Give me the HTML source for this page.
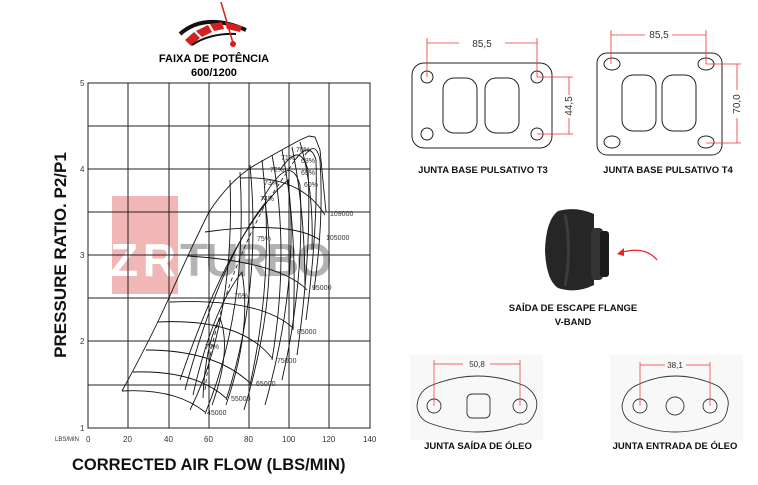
<!DOCTYPE html>
<html><head><meta charset="utf-8"><style>
html,body{margin:0;padding:0;background:#fff;}
svg{display:block;}
text{font-family:"Liberation Sans",sans-serif;}
</style></head><body>
<svg width="758" height="485" viewBox="0 0 758 485" xmlns="http://www.w3.org/2000/svg">
<!-- gauge -->
<path d="M180 34 Q205 12 246 30" fill="none" stroke="#111" stroke-width="4"/>
<path d="M185 40 L191 46 L200 38 L194 32 Z" fill="#d42020"/>
<path d="M196 31 L202 37 L212 32 L208 25 Z" fill="#d42020"/>
<path d="M210 24 L214 31 L224 29 L222 22 Z" fill="#d42020"/>
<path d="M225 22 L227 29 L240 32 L242 26 Z" fill="#d42020"/>
<path d="M192 45 Q210 33 236 34" fill="none" stroke="#111" stroke-width="2"/>
<line x1="221" y1="2" x2="233" y2="43" stroke="#d42020" stroke-width="1.5"/>
<circle cx="233" cy="44" r="3" fill="#d42020"/>
<text x="214" y="62" font-size="11" font-weight="bold" text-anchor="middle">FAIXA DE POTÊNCIA</text>
<text x="214" y="76" font-size="11" font-weight="bold" text-anchor="middle">600/1200</text>

<!-- watermark -->
<rect x="112" y="196" width="66" height="98" fill="#f1b7b7"/>
<text x="110" y="276" font-size="46" font-weight="bold" fill="#fff" textLength="66">ZR</text>
<text x="180" y="276" font-size="46" font-weight="bold" fill="#8a8a8a" fill-opacity="0.65" textLength="152">TURBO</text>

<!-- grid -->
<g stroke="#222" stroke-width="1" fill="none">
<rect x="88" y="83" width="282" height="345"/>
<line x1="128" y1="83" x2="128" y2="428"/><line x1="169" y1="83" x2="169" y2="428"/>
<line x1="209" y1="83" x2="209" y2="428"/><line x1="249" y1="83" x2="249" y2="428"/>
<line x1="289" y1="83" x2="289" y2="428"/><line x1="329" y1="83" x2="329" y2="428"/>
<line x1="88" y1="126" x2="370" y2="126"/><line x1="88" y1="169" x2="370" y2="169"/>
<line x1="88" y1="212" x2="370" y2="212"/><line x1="88" y1="255" x2="370" y2="255"/>
<line x1="88" y1="298" x2="370" y2="298"/><line x1="88" y1="341" x2="370" y2="341"/>
<line x1="88" y1="385" x2="370" y2="385"/>
</g>
<g font-size="8" fill="#333">
<text x="80" y="86">5</text><text x="80" y="172">4</text><text x="80" y="258">3</text>
<text x="80" y="344">2</text><text x="80" y="431">1</text>
<text x="55" y="441" font-size="6">LBS/MIN</text>
<text x="86" y="442">0</text><text x="123" y="442">20</text><text x="164" y="442">40</text>
<text x="204" y="442">60</text><text x="244" y="442">80</text><text x="282" y="442">100</text>
<text x="322" y="442">120</text><text x="363" y="442">140</text>
</g>
<text x="72" y="470" font-size="16.5" font-weight="bold" fill="#111">CORRECTED AIR FLOW (LBS/MIN)</text>
<text transform="translate(66,255) rotate(-90)" font-size="17" font-weight="bold" text-anchor="middle" fill="#111">PRESSURE RATIO. P2/P1</text>

<!-- map -->
<g stroke="#111" stroke-width="0.9" fill="none">
<!-- surge + top -->
<path d="M122 391 Q150 340 168 300 Q190 250 209 212 Q230 180 255 165 Q285 148 300 140 L309 136 L315 137 L320 150 L326 212"/>
<!-- speed lines -->
<path d="M122 391 Q175 388 205 412"/>
<path d="M133 372 Q195 370 226 398"/>
<path d="M146 350 Q215 350 250 383"/>
<path d="M158 322 Q240 318 272 358"/>
<path d="M170 302 Q260 298 293 328"/>
<path d="M188 256 Q280 262 307 290"/>
<path d="M205 232 Q290 220 320 240"/>
<path d="M240 178 Q300 175 325 215"/>
<!-- choke lines -->
<path d="M300 142 Q314 190 312 250"/>
<path d="M292 147 Q305 210 305 290"/>
<path d="M282 150 Q298 230 293 330"/>
<path d="M272 155 Q290 250 272 360"/>
<path d="M262 160 Q275 270 250 385"/>
<path d="M250 165 Q262 290 226 400"/>
<path d="M240 172 Q248 310 205 414"/>
<path d="M230 180 Q235 320 190 410"/>
<!-- efficiency islands -->
<path d="M203 398 Q205 345 220 318 Q232 350 212 405"/>
<path d="M193 395 Q212 310 242 272 Q252 330 226 405"/>
<path d="M185 390 Q220 260 265 203 Q280 290 244 410"/>
<path d="M180 380 Q232 228 288 180 Q300 280 265 405"/>
<path d="M262 200 Q290 150 300 185 Q305 280 282 380"/>
<path d="M280 170 Q300 140 308 170 Q312 250 297 355"/>
<path d="M295 160 Q310 140 316 160 Q318 230 306 320"/>
<path d="M305 155 Q316 140 320 160 Q324 220 314 290"/>
</g>
<path d="M205 390 Q215 300 265 205 L295 160" fill="none" stroke="#111" stroke-width="0.8" stroke-dasharray="4,3"/>
<g font-size="7" fill="#333">
<text x="296" y="152">70%</text><text x="281" y="160">71%</text><text x="301" y="163">68%</text>
<text x="270" y="172">72%</text><text x="301" y="175">65%</text><text x="264" y="185">73%</text>
<text x="304" y="187">60%</text><text x="260" y="201">74%</text><text x="257" y="241">75%</text>
<text x="234" y="298">76%</text><text x="205" y="349">77%</text>
<text x="330" y="216">109000</text><text x="326" y="240">105000</text><text x="312" y="290">95000</text>
<text x="297" y="334">85000</text><text x="277" y="363">75000</text><text x="256" y="386">65000</text>
<text x="231" y="401">55000</text><text x="207" y="415">45000</text>
</g>

<!-- T3 / T4 gaskets -->
<g stroke="#222" stroke-width="1" fill="none">
<rect x="412" y="63" width="140" height="85" rx="12"/>
<circle cx="427" cy="77" r="6"/><circle cx="537" cy="77" r="6"/>
<circle cx="427" cy="134" r="6"/><circle cx="537" cy="134" r="6"/>
<rect x="443" y="78" width="34" height="55" rx="11"/><rect x="485" y="78" width="34" height="55" rx="11"/>
<rect x="597" y="53" width="125" height="102" rx="10"/>
<ellipse cx="612" cy="64" rx="8" ry="6"/><ellipse cx="706" cy="64" rx="8" ry="6"/>
<ellipse cx="612" cy="142" rx="8" ry="6"/><ellipse cx="706" cy="142" rx="8" ry="6"/>
<rect x="622" y="75" width="34" height="56" rx="11"/><rect x="662" y="75" width="34" height="56" rx="11"/>
</g>
<g stroke="#e33" stroke-width="0.8" fill="none">
<line x1="427" y1="38" x2="427" y2="77"/><line x1="537" y1="38" x2="537" y2="77"/>
<line x1="427" y1="43" x2="459" y2="43"/><line x1="505" y1="43" x2="537" y2="43"/>
<line x1="537" y1="77" x2="573" y2="77"/><line x1="537" y1="134" x2="573" y2="134"/>
<line x1="569" y1="77" x2="569" y2="95"/><line x1="569" y1="118" x2="569" y2="134"/>
<line x1="611" y1="30" x2="611" y2="64"/><line x1="706" y1="30" x2="706" y2="64"/>
<line x1="611" y1="35" x2="645" y2="35"/><line x1="672" y1="35" x2="706" y2="35"/>
<line x1="706" y1="64" x2="741" y2="64"/><line x1="706" y1="143" x2="741" y2="143"/>
<line x1="737" y1="64" x2="737" y2="90"/><line x1="737" y1="118" x2="737" y2="143"/>
</g>
<g font-size="10" fill="#333">
<text x="482" y="47" text-anchor="middle">85,5</text>
<text x="659" y="38" text-anchor="middle">85,5</text>
<text transform="translate(572,106) rotate(-90)" text-anchor="middle">44,5</text>
<text transform="translate(740,104) rotate(-90)" text-anchor="middle">70,0</text>
</g>
<g font-size="9.5" font-weight="bold" fill="#111" text-anchor="middle">
<text x="483" y="173">JUNTA BASE PULSATIVO T3</text>
<text x="668" y="173">JUNTA BASE PULSATIVO T4</text>
<text x="573" y="311">SAÍDA DE ESCAPE FLANGE</text>
<text x="573" y="325">V-BAND</text>
<text x="478" y="449">JUNTA SAÍDA DE ÓLEO</text>
<text x="675" y="449">JUNTA ENTRADA DE ÓLEO</text>
</g>

<!-- turbo photo -->
<path d="M558 211 Q546 220 545 250 Q546 280 558 288 Q576 294 594 285 L594 214 Q576 206 558 211 Z" fill="#262626"/>
<path d="M565 214 Q572 250 565 286" stroke="#3c3c3c" stroke-width="3" fill="none"/>
<rect x="591" y="228" width="12" height="52" rx="4" fill="#333"/>
<rect x="600" y="231" width="9" height="46" rx="3" fill="#1a1a1a"/>
<path d="M657 260 Q645 245 619 253" stroke="#e22" stroke-width="1.3" fill="none"/>
<path d="M617 254 L624 248 L624 256 Z" fill="#e22"/>

<!-- oil gaskets -->
<rect x="410" y="355" width="133" height="85" fill="#f8f8f8"/>
<rect x="610" y="355" width="133" height="85" fill="#f8f8f8"/>
<g stroke="#333" stroke-width="0.9" fill="none">
<path d="M430 386 Q478 366 525 386 Q540 396 536 410 Q530 426 520 424 Q478 440 432 424 Q418 420 417 406 Q418 392 430 386 Z"/>
<circle cx="434" cy="406" r="7"/><circle cx="520" cy="406" r="7"/>
<rect x="467" y="394" width="23" height="24" rx="5"/>
<path d="M635 386 Q675 366 718 386 Q730 396 728 406 Q726 422 715 424 Q675 440 636 424 Q623 420 622 406 Q624 392 635 386 Z"/>
<circle cx="640" cy="406" r="7"/><circle cx="710" cy="406" r="7"/><circle cx="675" cy="406" r="9"/>
</g>
<g stroke="#e33" stroke-width="0.7">
<line x1="434" y1="360" x2="434" y2="406"/><line x1="520" y1="360" x2="520" y2="406"/>
<line x1="434" y1="364" x2="463" y2="364"/><line x1="490" y1="364" x2="520" y2="364"/>
<line x1="640" y1="362" x2="640" y2="406"/><line x1="710" y1="362" x2="710" y2="406"/>
<line x1="640" y1="365" x2="665" y2="365"/><line x1="686" y1="365" x2="710" y2="365"/>
</g>
<text x="477" y="367" font-size="8" fill="#333" text-anchor="middle">50,8</text>
<text x="675" y="368" font-size="8" fill="#333" text-anchor="middle">38,1</text>
</svg>
</body></html>
